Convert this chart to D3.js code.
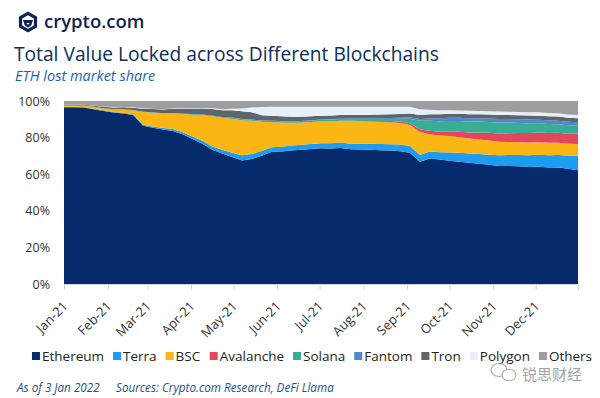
<!DOCTYPE html>
<html>
<head>
<meta charset="utf-8">
<script src="https://cdn.jsdelivr.net/npm/d3@7"></script>
<style>
  html, body { margin: 0; padding: 0; background: #fff; }
  svg { display: block; font-family: "Open Sans", "Noto Sans", sans-serif; }
</style>
</head>
<body>
<div id="chart"></div>
<script>
// weekly observations, share of total TVL (%)
var dates = [
  '2021-01-01','2021-01-08','2021-01-15','2021-01-22','2021-01-29','2021-02-05','2021-02-12',
  '2021-02-19','2021-02-26','2021-03-05','2021-03-12','2021-03-19','2021-03-26','2021-04-02',
  '2021-04-09','2021-04-16','2021-04-23','2021-04-30','2021-05-07','2021-05-14','2021-05-21',
  '2021-05-28','2021-06-04','2021-06-11','2021-06-18','2021-06-25','2021-07-02','2021-07-09',
  '2021-07-16','2021-07-23','2021-07-30','2021-08-06','2021-08-13','2021-08-20','2021-08-27',
  '2021-09-03','2021-09-10','2021-09-17','2021-09-24','2021-10-01','2021-10-08','2021-10-15',
  '2021-10-22','2021-10-29','2021-11-05','2021-11-12','2021-11-19','2021-11-26','2021-12-03',
  '2021-12-10','2021-12-17','2021-12-24','2021-12-31'
];

var seriesNames = ['Ethereum', 'Terra', 'BSC', 'Avalanche', 'Solana', 'Fantom', 'Tron', 'Polygon', 'Others'];

var ethereum = [97, 97, 96.8, 95.5, 94.5, 94, 94.2, 93.5, 86, 85.5, 85, 84, 82.5, 79.5,
  77, 73.5, 71.5, 69, 67, 68, 70.5, 72.5, 72.5, 73, 73.5, 74, 74.5, 74,
  74.5, 74, 73.5, 73.5, 73, 73, 72.5, 72, 66, 68.5, 68, 67.5, 67, 66.5,
  66, 65.5, 64.5, 64.5, 64.5, 64, 64, 63.5, 63.5, 62.5, 61.5];
var terra = [0.2, 0.2, 0.2, 0.3, 0.3, 0.3, 0.4, 0.5, 0.6, 0.7, 0.8, 1.0, 1.2, 1.4,
  1.6, 1.8, 2.0, 2.4, 2.8, 2.8, 2.6, 2.5, 2.6, 2.7, 2.8, 2.8, 2.8, 2.9,
  3.0, 3.0, 3.2, 3.3, 3.4, 3.5, 3.6, 3.6, 3.6, 3.8, 4.0, 4.5, 4.8, 5.0,
  5.3, 5.5, 5.8, 6.0, 6.2, 6.3, 6.5, 6.6, 6.8, 7.0, 7.8];
var bsc = [0.8, 0.8, 0.9, 1.0, 1.2, 1.5, 1.8, 2.2, 7, 7.5, 8, 8.5, 10, 12,
  14, 16.5, 17.5, 18.5, 19, 18, 16, 13.7, 13.2, 12.3, 12, 12, 12, 12,
  11.8, 12.5, 12.3, 12.2, 12, 12, 11.8, 11.5, 12.5, 9.5, 9.2, 9, 8.5, 8.2,
  8, 7.8, 7.4, 7.2, 7, 7, 6.8, 6.8, 6.6, 6.5, 6.4];
var avalanche = [0, 0, 0, 0, 0, 0, 0, 0, 0, 0, 0, 0, 0, 0,
  0, 0, 0, 0, 0, 0, 0, 0.1, 0.1, 0.1, 0.1, 0.1, 0.1, 0.1,
  0.1, 0.1, 0.1, 0.2, 0.4, 0.6, 0.8, 1.0, 1.5, 1.8, 2.0, 2.5, 3.0, 3.4,
  3.8, 4.2, 4.6, 4.8, 5.0, 5.2, 5.3, 5.4, 5.5, 5.5, 5.5];
var solana = [0, 0, 0, 0, 0, 0, 0.1, 0.1, 0.1, 0.1, 0.1, 0.2, 0.2, 0.3,
  0.3, 0.4, 0.4, 0.5, 0.5, 0.6, 0.6, 0.7, 0.7, 0.7, 0.8, 0.8, 0.8, 0.9,
  0.9, 1.0, 1.0, 1.1, 1.2, 1.2, 1.5, 2.5, 4.5, 5.5, 5.8, 5.8, 5.9, 6.0,
  6.0, 6.0, 6.0, 5.8, 5.6, 5.4, 5.0, 4.9, 4.7, 4.5, 4.3];
var fantom = [0, 0, 0, 0, 0, 0, 0, 0, 0, 0.1, 0.1, 0.1, 0.1, 0.1,
  0.1, 0.1, 0.1, 0.1, 0.1, 0.1, 0.1, 0.1, 0.1, 0.1, 0.1, 0.1, 0.1, 0.2,
  0.2, 0.3, 0.3, 0.4, 0.4, 0.5, 0.6, 0.8, 1.0, 1.3, 1.6, 1.7, 1.8, 1.8,
  1.8, 1.9, 1.9, 1.9, 2.0, 2.0, 2.0, 2.0, 1.9, 1.9, 1.9];
var tron = [0.3, 0.3, 0.4, 0.6, 0.8, 1.0, 1.1, 1.3, 1.6, 1.8, 2.0, 2.3, 2.6, 3.0,
  3.3, 3.5, 3.6, 4.0, 4.3, 4.0, 2.9, 2.7, 2.6, 2.5, 2.3, 2.2, 2.1, 2.0,
  2.0, 2.0, 2.0, 2.0, 2.0, 2.0, 2.0, 2.0, 2.2, 2.2, 2.2, 2.2, 2.2, 2.2,
  2.2, 2.2, 2.2, 2.2, 2.2, 2.2, 2.2, 2.2, 2.2, 2.2, 2.2];
var polygon = [0.1, 0.1, 0.1, 0.1, 0.1, 0.2, 0.2, 0.2, 0.2, 0.2, 0.2, 0.3, 0.3, 0.3,
  0.3, 0.4, 0.6, 0.8, 1.5, 2.5, 4.5, 5.0, 5.3, 5.5, 5.5, 5.3, 5.0, 4.8,
  4.6, 4.5, 4.5, 4.4, 4.3, 4.2, 4.0, 3.8, 3.0, 2.5, 2.2, 2.0, 1.8, 1.8,
  1.8, 1.8, 1.8, 1.8, 1.8, 1.8, 1.8, 1.8, 1.8, 1.8, 1.8];
var others = [2.0, 2.0, 2.0, 2.5, 3.0, 3.3, 3.3, 3.5, 4.0, 4.2, 4.5, 4.0, 4.0, 3.8,
  3.8, 4.0, 4.5, 4.2, 4.0, 3.6, 3.3, 3.1, 3.1, 3.1, 3.1, 3.1, 3.1, 3.1,
  3.1, 3.1, 3.1, 3.1, 3.1, 3.1, 3.1, 3.1, 4.5, 4.8, 5.0, 5.0, 5.2, 5.4,
  5.5, 5.6, 5.8, 5.9, 6.0, 6.1, 6.2, 6.5, 6.7, 7.3, 7.5];

var yTicks = [0, 0.2, 0.4, 0.6, 0.8, 1];

var colors = ['#062b6c', '#1d9cf2', '#fbb614', '#e4475d', '#35ae93', '#4f88cb', '#5d656d', '#e7f0fa', '#9e9e9e'];

var width = 600, height = 398;
var margin = {top: 101, right: 22, bottom: 114, left: 64};

var svg = d3.select('#chart').append('svg')
  .attr('width', width)
  .attr('height', height);

//////////////////////////////////////////////////
// header: logo, title, subtitle
//////////////////////////////////////////////////
var logo = svg.append('g').attr('transform', 'translate(28,22)');
var hex = function(r) {
  return d3.range(6).map(function(i) {
    var a = Math.PI / 3 * i - Math.PI / 2;
    return [r * Math.cos(a), r * Math.sin(a)];
  });
};
logo.append('path').attr('d', d3.line()(hex(10.5)) + 'Z').attr('fill', '#0d2452');
logo.append('path').attr('d', d3.line()(hex(6.8)) + 'Z').attr('fill', '#fff');
logo.append('path').attr('d', 'M-5,-2 L5,-2 L3.2,3.5 L0,5.5 L-3.2,3.5 Z').attr('fill', '#0d2452');
logo.append('path').attr('d', 'M-1.6,1 L1.6,1 L0,3 Z').attr('fill', '#fff');

svg.append('text')
  .attr('x', 44).attr('y', 28)
  .attr('fill', '#0d2452')
  .style('font-size', '18.5px')
  .style('font-weight', 600)
  .text('crypto.com');

svg.append('text')
  .attr('x', 14).attr('y', 61)
  .attr('fill', '#0c2d5e')
  .style('font-size', '19.2px')
  .text('Total Value Locked across Different Blockchains');

svg.append('text')
  .attr('x', 15).attr('y', 81)
  .attr('fill', '#1d5fae')
  .style('font-size', '14.5px')
  .style('font-style', 'italic')
  .text('ETH lost market share');

//////////////////////////////////////////////////
// stacked 100% area
//////////////////////////////////////////////////
var parse = d3.timeParse('%Y-%m-%d');
var columns = [ethereum, terra, bsc, avalanche, solana, fantom, tron, polygon, others];
var rows = dates.map(function(d, i) {
  var row = {date: parse(d)};
  seriesNames.forEach(function(name, j) { row[name] = columns[j][i]; });
  return row;
});

var x = d3.scaleTime()
  .domain(d3.extent(rows, function(d) { return d.date; }))
  .range([margin.left, width - margin.right]);

var y = d3.scaleLinear()
  .domain([0, 1])
  .range([height - margin.bottom, margin.top]);

var stack = d3.stack()
  .keys(seriesNames)
  .offset(d3.stackOffsetExpand);

var area = d3.area()
  .x(function(d) { return x(d.data.date); })
  .y0(function(d) { return y(d[0]); })
  .y1(function(d) { return y(d[1]); });

svg.append('g').selectAll('path')
  .data(stack(rows))
  .join('path')
  .attr('fill', function(d, i) { return colors[i]; })
  .attr('d', area);

// x axis
var xAxis = svg.append('g')
  .attr('transform', 'translate(0,' + (height - margin.bottom) + ')')
  .call(d3.axisBottom(x)
    .ticks(d3.timeMonth.every(1))
    .tickSize(6)
    .tickFormat(d3.timeFormat('%b-%y')));
xAxis.select('.domain').attr('stroke', '#d4d4d4');
xAxis.selectAll('.tick line').attr('stroke', '#d4d4d4');
xAxis.selectAll('.tick text')
  .attr('fill', '#333')
  .style('font-size', '13px')
  .style('font-family', '"Open Sans", sans-serif')
  .attr('text-anchor', 'end')
  .attr('x', 0).attr('y', 0).attr('dy', 0)
  .attr('transform', 'translate(4,23) rotate(-45)');

// y axis
var yAxis = svg.append('g')
  .attr('transform', 'translate(' + (margin.left - 14) + ',0)')
  .call(d3.axisLeft(y)
    .tickValues(yTicks)
    .tickSize(0)
    .tickFormat(d3.format('.0%')));
yAxis.select('.domain').remove();
yAxis.selectAll('.tick text')
  .attr('fill', '#333')
  .attr('x', 0)
  .style('font-size', '12.5px')
  .style('font-family', '"Open Sans", sans-serif');

//////////////////////////////////////////////////
// legend
//////////////////////////////////////////////////
var legend = svg.append('g').attr('transform', 'translate(0,361)');
var items = legend.selectAll('g')
  .data(seriesNames)
  .join('g');
items.append('rect')
  .attr('y', -9).attr('width', 8).attr('height', 8)
  .attr('fill', function(d, i) { return colors[i]; });
items.append('text')
  .attr('x', 10)
  .attr('fill', '#222')
  .style('font-size', '13.5px')
  .text(function(d) { return d; });
var cursor = 0;
items.each(function() {
  var w = this.getBBox().width;
  d3.select(this).attr('transform', 'translate(' + cursor + ',0)');
  cursor += w + 9;
});
legend.attr('transform', 'translate(' + (312 - (cursor - 9) / 2) + ',361)');

//////////////////////////////////////////////////
// footer + watermark
//////////////////////////////////////////////////
var footer = svg.append('g')
  .attr('fill', '#1f4f8f')
  .style('font-size', '11.7px')
  .style('font-style', 'italic');
footer.append('text').attr('x', 17).attr('y', 392).text('As of 3 Jan 2022');
footer.append('text').attr('x', 116).attr('y', 392).text('Sources: Crypto.com Research, DeFi Llama');

var wm = svg.append('g').attr('fill', 'none').attr('stroke', '#a8a8a8').attr('stroke-width', 1.1);
wm.append('ellipse').attr('cx', 499).attr('cy', 370).attr('rx', 8).attr('ry', 6.5);
wm.append('ellipse').attr('cx', 509).attr('cy', 375).attr('rx', 7).attr('ry', 5.8).attr('fill', '#fff');
svg.append('text')
  .attr('x', 522).attr('y', 380)
  .attr('fill', '#a3a3a3')
  .style('font-family', '"Noto Sans CJK SC", sans-serif')
  .style('font-size', '15px')
  .text('锐思财经');
</script>
</body>
</html>
